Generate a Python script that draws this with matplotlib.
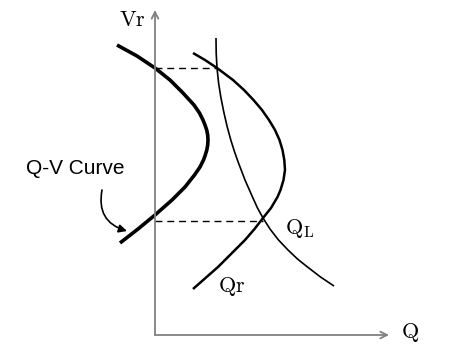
import matplotlib
matplotlib.use("Agg")
import matplotlib.pyplot as plt
from matplotlib.patches import FancyArrowPatch

plt.rcParams["mathtext.fontset"] = "cm"

# Curves (pixel space, y grows downward)
QV_X = [117, 137, 155, 170, 183, 194, 199.5, 203, 205, 206.7, 207.7, 208,
        207.7, 206.8, 205.3, 203.5, 200, 194.5, 185, 172, 155, 138, 120]
QV_Y = [45, 56, 68, 80, 93, 105, 113, 120, 125, 130, 135, 140,
        145, 150, 155, 160, 167, 175, 187, 200, 215, 229, 243]

QR_X = [193, 205, 217, 233, 244, 253.5, 262, 269, 275, 279.5, 282.5, 284.3, 285,
        283.5, 280.5, 277.5, 271, 263, 254.5, 245, 235, 227, 218, 205.5, 193]
QR_Y = [53, 60, 68, 80, 90, 100, 110, 120, 130, 140, 150, 160, 170,
        180, 190, 197, 208, 218, 229, 240, 250, 258, 267, 278, 289]

QL_X = [216, 216.2, 217, 218.6, 220.8, 223.8, 227, 230.8, 234.6, 238.5, 245, 252.5,
        257.5, 263, 270, 278.5, 288, 297.5, 307.5, 320.5, 334]
QL_Y = [38, 53, 68, 83, 97, 112, 126, 140, 152, 163, 180, 197,
        208, 218, 229, 240, 250, 259, 267, 277, 286]

# dashed guide lines: (y, x_start, x_end)
GUIDES = [(68, 155, 216), (221, 155, 263)]

ORIGIN = (155, 335)
X_END = 389
Y_END = 10

fig = plt.figure(figsize=(4.56, 3.49), dpi=100)
ax = fig.add_axes([0, 0, 1, 1])
ax.set_xlim(0, 456)
ax.set_ylim(349, 0)
ax.axis("off")

# axes with open arrow heads
axis_col = "#808080"
ax.annotate("", xy=(X_END, ORIGIN[1]), xytext=(ORIGIN[0], ORIGIN[1]),
            arrowprops=dict(arrowstyle="->", color=axis_col, lw=1.3,
                            mutation_scale=12, shrinkA=0, shrinkB=0))
ax.annotate("", xy=(ORIGIN[0], Y_END), xytext=(ORIGIN[0], ORIGIN[1]),
            arrowprops=dict(arrowstyle="->", color=axis_col, lw=1.3,
                            mutation_scale=12, shrinkA=0, shrinkB=0))

for y, x0, x1 in GUIDES:
    ax.plot([x0, x1], [y, y], color="black", lw=1.0, ls=(0, (5, 3.5)))

ax.plot(QV_X, QV_Y, color="black", lw=2.6, solid_capstyle="butt", solid_joinstyle="round")
ax.plot(QR_X, QR_Y, color="black", lw=1.8, solid_capstyle="butt", solid_joinstyle="round")
ax.plot(QL_X, QL_Y, color="black", lw=1.2, solid_capstyle="butt", solid_joinstyle="round")

ax.text(132, 20, r"$\mathrm{Vr}$", fontsize=16, ha="center", va="center")
ax.text(410, 333, r"$\mathrm{Q}$", fontsize=16, ha="center", va="center")
ax.text(232, 287, r"$\mathrm{Qr}$", fontsize=16, ha="center", va="center")
ax.text(300, 228, r"$\mathrm{Q_L}$", fontsize=16, ha="center", va="center")

ax.text(75, 169, "Q-V Curve", fontsize=15, family="Liberation Sans",
        ha="center", va="center")
arr = FancyArrowPatch((102, 190), (127, 231), connectionstyle="arc3,rad=0.45",
                      arrowstyle="-|>", mutation_scale=12, color="black", lw=1.2,
                      shrinkA=0, shrinkB=0)
ax.add_patch(arr)

fig.savefig("out.png", dpi=100)
